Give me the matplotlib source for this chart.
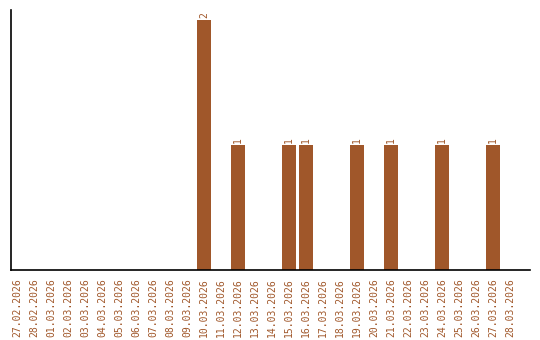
import matplotlib
matplotlib.use("Agg")
import matplotlib.pyplot as plt

# dates shown on the x axis and count per date
dates = ["27.02.2026", "28.02.2026"] + ["%02d.03.2026" % d for d in range(1, 29)]
counts = [0, 0, 0, 0, 0, 0, 0, 0, 0, 0, 0, 2, 0, 1, 0, 0, 1, 1, 0, 0, 1, 0, 1, 0, 0, 1, 0, 0, 1, 0]

color = "#A0572A"

fig = plt.figure(figsize=(5.4, 3.4), dpi=100)
ax = fig.add_axes([11 / 540, 70 / 340, 519 / 540, 260 / 340])

x = list(range(len(dates)))
ax.bar(x, counts, width=0.82, color=color)

# value labels above the non-empty bars
for xi, c in zip(x, counts):
    if c > 0:
        ax.text(xi, c + 0.015, str(c), rotation=90, ha="center", va="bottom",
                fontsize=7, color=color, family="DejaVu Sans Mono")

ax.set_xlim(-0.35, len(dates) + 0.18)
ax.set_ylim(0, 2.08)
ax.set_xticks(x)
ax.set_xticklabels(dates, rotation=90, fontsize=7, color=color, family="DejaVu Sans Mono")
ax.tick_params(axis="x", length=0, pad=6)
ax.set_yticks([])

for s in ["top", "right"]:
    ax.spines[s].set_visible(False)
ax.spines["left"].set_linewidth(1.2)
ax.spines["bottom"].set_linewidth(1.2)

fig.savefig("out.png", dpi=100)
